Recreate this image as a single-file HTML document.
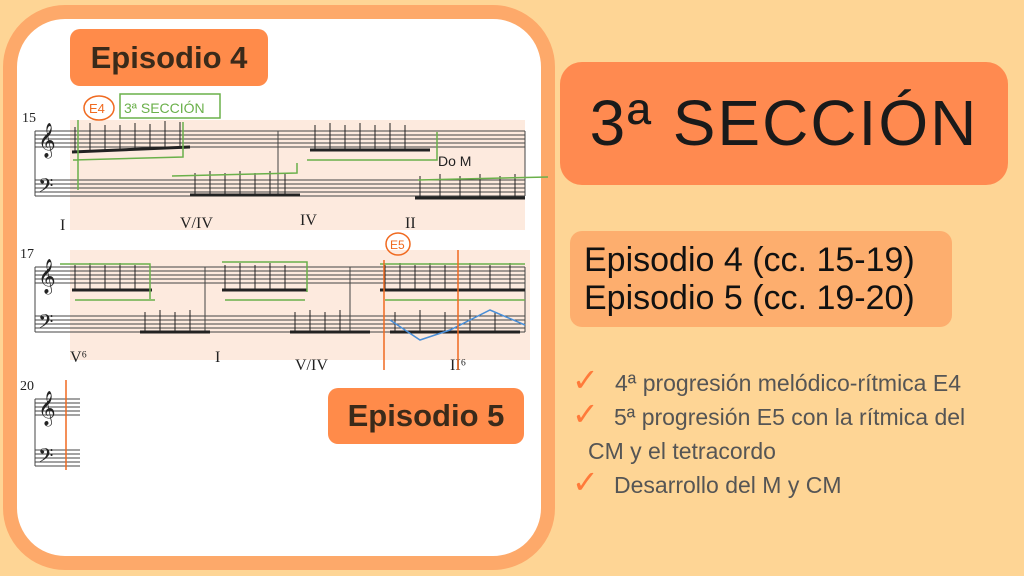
<!DOCTYPE html>
<html><head><meta charset="utf-8"><style>
body{margin:0;width:1024px;height:576px;background:#FED595;position:relative;overflow:hidden;font-family:"Liberation Sans",sans-serif}
.card{position:absolute;left:3px;top:5px;width:524px;height:537px;background:#fff;border:14px solid #FDA96A;border-radius:62px}
.lab{position:absolute;background:#FF8B4A;border-radius:10px;color:#3a2a1a;font-weight:bold;text-align:center}
.sec{position:absolute;left:560px;top:62px;width:448px;height:123px;background:#FF8A50;border-radius:22px;font-size:64px;text-align:center;line-height:123px;color:#1a1a1a;letter-spacing:2px}
.eps{position:absolute;left:570px;top:231px;width:382px;height:96px;background:#FDAE6E;border-radius:12px;font-size:34px;line-height:38px;color:#111;padding-left:14px;box-sizing:border-box;padding-top:10px;white-space:nowrap}
.li{position:absolute;font-size:23px;color:#555;left:588px;white-space:nowrap}
.ck{position:absolute;color:#FF7A3A;font-size:32px;left:572px}
</style></head><body>
<div class="card"></div>
<svg style="position:absolute;left:0;top:0" width="560" height="576">
<rect x="70" y="120" width="455" height="110" fill="#FCE5D6" opacity=".8"/>
<rect x="70" y="250" width="460" height="110" fill="#FCE5D6" opacity=".8"/>
<g stroke="#444" stroke-width="1">
<path d="M35 131h490M35 135h490M35 139h490M35 143h490M35 147h490"/>
<path d="M35 180h490M35 184h490M35 188h490M35 192h490M35 196h490"/>
<path d="M35 267h490M35 271h490M35 275h490M35 279h490M35 283h490"/>
<path d="M35 316h490M35 320h490M35 324h490M35 328h490M35 332h490"/>
<path d="M35 399h45M35 403h45M35 407h45M35 411h45M35 415h45"/>
<path d="M35 450h45M35 454h45M35 458h45M35 462h45M35 466h45"/>
<path d="M35 131v65M278 131v65M525 131v65M35 267v65M205 267v65M350 267v65M525 267v65M35 399v67"/>
</g>
<g fill="#222" font-family="Liberation Serif" font-size="14"><text x="22" y="122">15</text><text x="20" y="258">17</text><text x="20" y="390">20</text>
<text x="38" y="150" font-size="30">𝄞</text><text x="38" y="196" font-size="24">𝄢</text><text x="38" y="286" font-size="30">𝄞</text><text x="38" y="332" font-size="24">𝄢</text><text x="38" y="418" font-size="30">𝄞</text><text x="38" y="466" font-size="24">𝄢</text>
<text x="60" y="230" font-size="16">I</text><text x="180" y="228" font-size="16">V/IV</text><text x="300" y="225" font-size="16">IV</text><text x="405" y="228" font-size="16">II</text>
<text x="70" y="362" font-size="16">V⁶</text><text x="215" y="362" font-size="16">I</text><text x="295" y="370" font-size="16">V/IV</text><text x="450" y="370" font-size="16">II⁶</text></g>
<g stroke="#222" stroke-width="3"><path d="M72 152l118 -5M310 150l120 0M190 195l110 0M415 198l110 0M72 290l80 0M222 290l85 0M380 290l145 0M140 332l70 0M290 332l80 0M390 332l130 0"/></g>
<g stroke="#222" stroke-width="1"><path d="M75 152v-25M90 151v-28M105 151v-26M120 150v-25M135 150v-27M150 149v-25M165 149v-28M180 148v-26M315 150v-25M330 150v-27M345 150v-25M360 150v-27M375 150v-25M390 150v-27M405 150v-25M195 195v-22M210 195v-24M225 195v-22M240 195v-24M255 195v-22M270 195v-24M285 195v-22M420 198v-22M440 198v-24M460 198v-22M480 198v-24M500 198v-22M515 198v-24M75 290v-25M90 290v-27M105 290v-25M120 290v-27M135 290v-25M225 290v-25M240 290v-27M255 290v-25M270 290v-27M285 290v-25M385 290v-25M400 290v-27M415 290v-25M430 290v-27M445 290v-25M470 290v-27M490 290v-25M510 290v-27M145 332v-20M160 332v-22M175 332v-20M190 332v-22M295 332v-20M310 332v-22M325 332v-20M340 332v-22M395 332v-20M420 332v-22M445 332v-20M470 332v-22M495 332v-20"/></g>
<g fill="none" stroke="#6AB04A" stroke-width="1.5"><path d="M78 120v70M73 160l110 -3v-35M172 176l125 -3v-10M307 160h130v-28M418 180l130 -3M60 264h90v35M222 262h85v30M380 264h145M75 300h80M225 300h80M385 300h140"/><rect x="120" y="94" width="100" height="24"/></g>
<g fill="none" stroke="#4A8FD8" stroke-width="1.5"><path d="M390 320l30 20 30-10 40-20 35 15"/></g>
<g fill="none" stroke="#F06A20" stroke-width="1.5"><ellipse cx="99" cy="108" rx="15" ry="12"/><ellipse cx="398" cy="244" rx="12" ry="11"/><path d="M384 260v110M458 250v120M66 380v90"/></g>
<text x="124" y="113" font-size="14" fill="#6AB04A">3ª SECCIÓN</text><text x="89" y="113" font-size="13" fill="#F06A20">E4</text><text x="390" y="249" font-size="12" fill="#F06A20">E5</text>
<text x="438" y="166" font-size="14" fill="#222">Do M</text>
</svg>
<div class="lab" style="left:70px;top:29px;width:198px;height:57px;font-size:31px;line-height:57px">Episodio 4</div>
<div class="lab" style="left:328px;top:388px;width:196px;height:56px;font-size:31px;line-height:56px">Episodio 5</div>
<div class="sec">3ª SECCIÓN</div>
<div class="eps">Episodio 4 (cc. 15-19)<br>Episodio 5 (cc. 19-20)</div>
<div class="ck" style="top:361px">✓</div><div class="li" style="top:370px;left:615px">4ª progresión melódico-rítmica E4</div>
<div class="ck" style="top:395px">✓</div><div class="li" style="top:404px;left:614px">5ª progresión E5 con la rítmica del</div>
<div class="li" style="top:438px">CM y el tetracordo</div>
<div class="ck" style="top:463px">✓</div><div class="li" style="top:472px;left:614px">Desarrollo del M y CM</div>
</body></html>
